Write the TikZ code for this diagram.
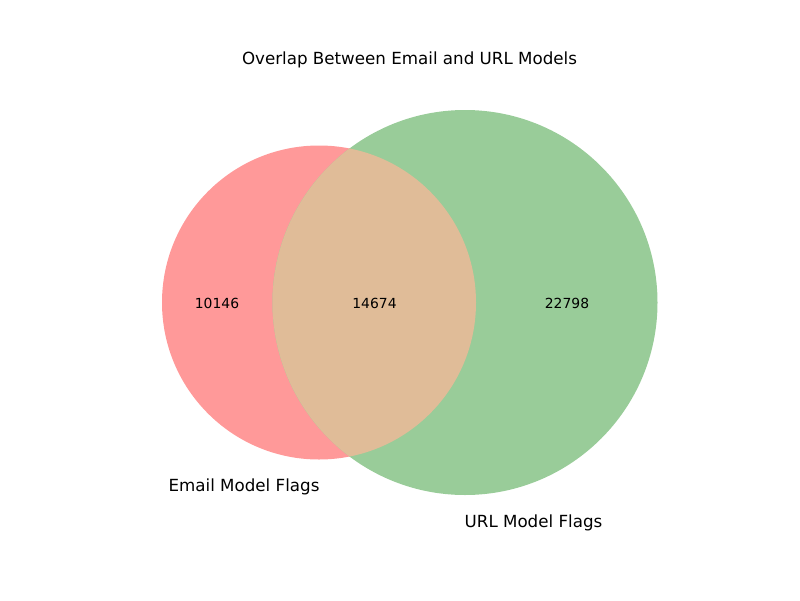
\documentclass[tikz,border=0pt]{standalone}
\usepackage{fontspec}
\setmainfont{DejaVu Sans}
\definecolor{setA}{RGB}{255,153,153}
\definecolor{setB}{RGB}{153,204,153}
\definecolor{setAB}{RGB}{224,188,152}
\begin{document}
\begin{tikzpicture}[x=1pt,y=-1pt,
  big/.style={font=\fontsize{16.7}{20}\selectfont, inner sep=0pt},
  num/.style={font=\fontsize{13.9}{16}\selectfont, inner sep=0pt}]
\useasboundingbox (0,0) rectangle (800,600);
\fill[setA] (319,302.5) circle[radius=157];
\fill[setB] (465,302.5) circle[radius=192.5];
\begin{scope}
\clip (319,302.5) circle[radius=157];
\fill[setAB] (465,302.5) circle[radius=192.5];
\end{scope}
\node[big] (title) at (409.5,59.5) {Overlap Between Email and URL Models};
\node[num] (a) at (217,303) {10146};
\node[num] (ab) at (374.5,303) {14674};
\node[num] (b) at (567,303) {22798};
\node[big] (la) at (244,486.5) {Email Model Flags};
\node[big] (lb) at (533.5,522.5) {URL Model Flags};
\end{tikzpicture}
\end{document}
